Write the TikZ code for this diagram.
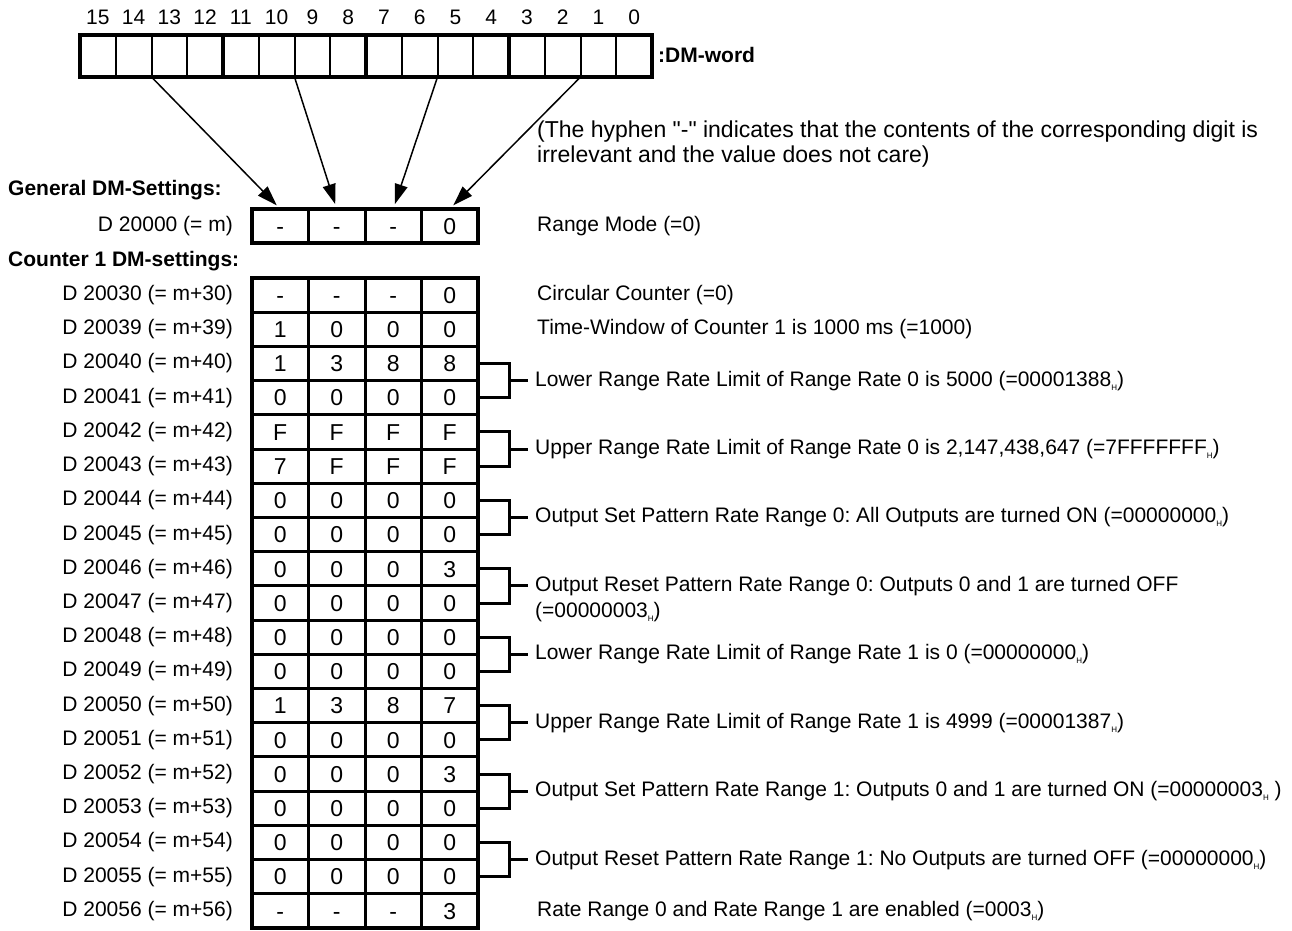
\documentclass[tikz,border=0pt]{standalone}
\usepackage{fontspec}
\setmainfont{Liberation Sans}[Ligatures=TeXOff]
\usetikzlibrary{arrows.meta,calc}
\newcommand{\hx}{{\fontsize{8}{8}\selectfont\raisebox{-4pt}{H}}}
\frenchspacing
\begin{document}
\begin{tikzpicture}[x=1pt,y=-1pt,
  txt/.style={font=\fontsize{21}{25}\selectfont, inner sep=0pt},
  boldtxt/.style={font=\fontsize{21}{25}\selectfont\bfseries, inner sep=0pt},
  hytxt/.style={font=\fontsize{23}{27}\selectfont, inner sep=0pt, anchor=west},
  desc/.style={font=\fontsize{21}{25}\selectfont, inner ysep=0pt, inner xsep=7pt, anchor=west},
  bitcell/.style={draw, line width=2pt, minimum width=35.75pt, minimum height=42pt, inner sep=0pt, outer sep=0pt},
  dcell/.style={draw, line width=3pt, minimum width=56.5pt, minimum height=34.2pt, inner sep=0pt, outer sep=0pt, font=\fontsize{23}{26}\selectfont, text height=16.5pt, text depth=0pt},
  arr/.style={line width=1.5pt, -{Triangle[length=20pt,width=13pt]}, shorten >=5pt},
  brk/.style={line width=3pt},
]
\useasboundingbox (0,0) rectangle (1292,930);

% ---- DM word ----
\foreach \k in {0,...,15}{
  \pgfmathtruncatemacro{\bit}{15-\k}
  \node[bitcell] (t\k) at ({80+35.75*(\k+0.5)},56) {};
  \node[txt] (b\k) at ({80+35.75*(\k+0.5)},17) {\bit};
}
\draw[line width=4pt] (t0.north west) rectangle (t15.south east);
\foreach \k in {3,7,11}{
  \draw[line width=3.5pt] (t\k.north east) -- (t\k.south east);
}
\node[boldtxt, anchor=west] (dmw) at (658,55) {:DM-word};

\node[hytxt] (hy1) at (537,132) {(The hyphen "-" indicates that the contents of the corresponding digit is};
\node[hytxt] (hy2) at (537,157) {irrelevant and the value does not care)};

% ---- General ----
\node[boldtxt, anchor=west] (gen) at (8,190) {General DM-Settings:};
\node[txt, anchor=east] (gl) at (233,226) {D 20000 (= m)};
\foreach \k/\v in {0/-,1/-,2/-,3/0}{
  \node[dcell] (g\k) at ({252+56.5*(\k+0.5)},226) {\v};
}
\draw[line width=3.5pt] (g0.north west) rectangle (g3.south east);
\node[desc] (gd) at (530,226) {Range Mode (=0)};

\draw[arr] (t1.south east) -- (g0.north);
\draw[arr] (t5.south east) -- (g1.north);
\draw[arr] (t9.south east) -- (g2.north);
\draw[arr] (t13.south east) -- (g3.north);

% ---- Counter 1 ----
\node[boldtxt, anchor=west] (cnt) at (8,261) {Counter 1 DM-settings:};
\foreach \r/\m/\va/\vb/\vc/\vd in {0/30/-/-/-/0, 1/39/1/0/0/0, 2/40/1/3/8/8, 3/41/0/0/0/0,
  4/42/F/F/F/F, 5/43/7/F/F/F, 6/44/0/0/0/0, 7/45/0/0/0/0, 8/46/0/0/0/3, 9/47/0/0/0/0,
  10/48/0/0/0/0, 11/49/0/0/0/0, 12/50/1/3/8/7, 13/51/0/0/0/0, 14/52/0/0/0/3, 15/53/0/0/0/0,
  16/54/0/0/0/0, 17/55/0/0/0/0, 18/56/-/-/-/3}{
  \pgfmathsetmacro{\yy}{278+34.21*(\r+0.5)}
  \node[txt, anchor=east] (l\r) at (233,\yy) {D 200\m{} (= m+\m)};
  \node[dcell] (c\r-0) at ({252+56.5*0.5},\yy) {\va};
  \node[dcell] (c\r-1) at ({252+56.5*1.5},\yy) {\vb};
  \node[dcell] (c\r-2) at ({252+56.5*2.5},\yy) {\vc};
  \node[dcell] (c\r-3) at ({252+56.5*3.5},\yy) {\vd};
}
\draw[line width=3.5pt] (c0-0.north west) rectangle (c18-3.south east);

% single-row descriptions
\node[desc] (d0) at ($(c0-3.east)+(52,0)$) {Circular Counter (=0)};
\node[desc] (d1) at ($(c1-3.east)+(52,0)$) {Time-Window of Counter 1 is 1000 ms (=1000)};
\node[desc] (d18) at ($(c18-3.east)+(52,0)$) {Rate Range 0 and Rate Range 1 are enabled (=0003\hx)};

% bracketed descriptions
\foreach \r/\t in {2/{Lower Range Rate Limit of Range Rate 0 is 5000 (=00001388\hx)},
  4/{Upper Range Rate Limit of Range Rate 0 is 2,147,438,647 (=7FFFFFFF\hx)},
  6/{Output Set Pattern Rate Range 0: All Outputs are turned ON (=00000000\hx)},
  8/{Output Reset Pattern Rate Range 0: Outputs 0 and 1 are turned OFF},
  10/{Lower Range Rate Limit of Range Rate 1 is 0 (=00000000\hx)},
  12/{Upper Range Rate Limit of Range Rate 1 is 4999 (=00001387\hx)},
  14/{Output Set Pattern Rate Range 1: Outputs 0 and 1 are turned ON (=00000003\hx\ )},
  16/{Output Reset Pattern Rate Range 1: No Outputs are turned OFF (=00000000\hx)}}{
  \pgfmathtruncatemacro{\s}{\r+1}
  \draw[brk] (c\r-3.east) -- ++(31,0) |- (c\s-3.east);
  \node[desc] (d\r) at ($(c\r-3.south east)+(50,0)$) {\t};
  \draw[brk] ($(c\r-3.south east)+(31,0)$) -- (d\r.west);
}
\node[desc] (d8b) at ($(d8.west)+(0,26)$) {(=00000003\hx)};
\end{tikzpicture}
\end{document}
